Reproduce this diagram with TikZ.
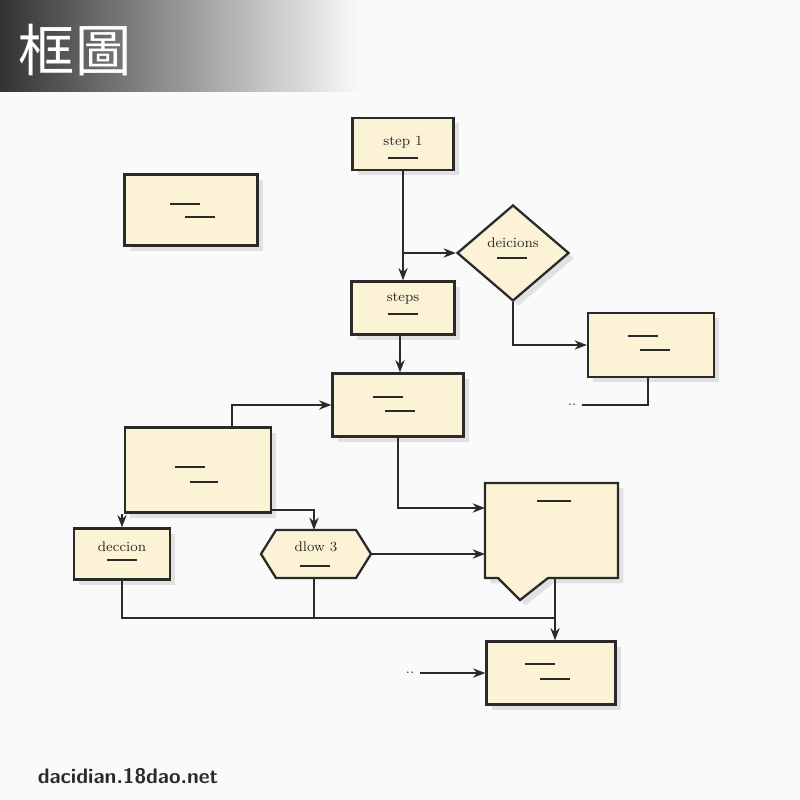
\documentclass[tikz,border=0pt]{standalone}
\usepackage{fontspec}
\newfontfamily\cjk{Noto Sans CJK SC}
\usetikzlibrary{shapes.geometric,arrows.meta,shadows}
\definecolor{cream}{HTML}{FCF3D6}
\definecolor{ink}{HTML}{2A2A2A}
\definecolor{paper}{HTML}{FAFAFA}
\begin{document}
\begin{tikzpicture}[x=0.02cm,y=-0.02cm]

% definitions
\tikzstyle{box} = [rectangle, draw=ink, line width=1.3pt, fill=cream, inner sep=0pt, drop shadow={opacity=0.2,shadow xshift=3pt,shadow yshift=-3pt}]
\tikzstyle{choice} = [diamond, draw=ink, line width=1.3pt, fill=cream, inner sep=0pt, minimum width=2.24cm, minimum height=1.92cm, drop shadow={opacity=0.2,shadow xshift=3pt,shadow yshift=-3pt}]
\tikzstyle{arrow} = [-{Stealth[length=7pt]}, draw=ink, line width=1.1pt]
\tikzstyle{line} = [draw=ink, line width=1.1pt]
\tikzstyle{stroke} = [draw=ink, line width=0.6pt]
\tikzstyle{lbl} = [font=\footnotesize, text=ink]

% background and header
\useasboundingbox (0,0) rectangle (800,800);
\fill[paper] (0,0) rectangle (800,800);
\shade[left color=black!80, right color=paper] (0,0) rectangle (360,92);
\node (title) [font=\cjk\fontsize{32}{32}\selectfont, text=white] at (75,50) {框圖};
\node (site) [font=\sffamily\bfseries\large, text=ink] at (128,776) {dacidian.18dao.net};

% the graph
\node (s1) [box, minimum width=2.02cm, minimum height=1.04cm] at (403,144) {};
\node [lbl] at (403,142) {step 1};
\node (lb) [box, minimum width=2.66cm, minimum height=1.42cm] at (191,210) {};
\node (dc) [choice] at (513,253) {};
\node [lbl] at (513,243) {deicions};
\node (st) [box, minimum width=2.06cm, minimum height=1.06cm] at (403,308) {};
\node [lbl] at (403,299) {steps};
\node (rb) [box, minimum width=2.52cm, minimum height=1.28cm] at (651,345) {};
\node (mb) [box, minimum width=2.62cm, minimum height=1.26cm] at (398,405) {};
\node (bl) [box, minimum width=2.92cm, minimum height=1.7cm] at (198,470) {};
\draw [line width=1.3pt, draw=ink, fill=cream, drop shadow={opacity=0.2,shadow xshift=3pt,shadow yshift=-3pt}]
  (485,483) -- (618,483) -- (618,578) -- (548,578) -- (520,600) -- (498,578) -- (485,578) -- cycle;
\coordinate (cl) at (485,508);
\coordinate (cb) at (555,578);
\node (dn) [box, minimum width=1.92cm, minimum height=1.02cm] at (122,554) {};
\node [lbl] at (122,547) {deccion};
\draw [line width=1.3pt, draw=ink, fill=cream] (261,554) -- (276,530) -- (356,530) -- (371,554) -- (356,578) -- (276,578) -- cycle;
\coordinate (hxn) at (314,530);
\coordinate (hxe) at (371,554);
\coordinate (hxs) at (314,578);
\node (bb) [box, minimum width=2.58cm, minimum height=1.26cm] at (551,673) {};

% placeholder strokes
\foreach \x/\y/\w in {170/204/30, 185/217/30, 388/158/30, 497/258/30, 388/314/30, 628/336/30, 640/350/30, 373/397/30, 385/411/30, 175/467/30, 190/482/28, 537/501/34, 107/560/30, 300/566/30, 525/664/30, 540/679/30}
  \draw [stroke] (\x,\y) -- ++(\w,0);

\draw [arrow] (s1) -- (st);
\coordinate (j1) at (403,253);
\draw [arrow] (j1) -- (dc.west);
\draw [arrow] (dc.south) |- (rb.west);
\node (d1) [lbl] at (572,405) {..};
\coordinate (rbs) at (648,377);
\draw [line] (rbs) |- (d1.east);
\draw [arrow] (st.south -| 400,0) -- (mb.north -| 400,0);
\coordinate (blt) at (232,428);
\draw [arrow] (blt) |- (mb.west);
\draw [arrow] (mb.south) |- (cl);
\draw [arrow] (dn.north |- bl.south) -- (dn.north);
\coordinate (j2) at (270,510);
\draw [arrow] (j2) -- (314,510) -- (hxn);
\node (dhx) [lbl] at (316,547) {dlow 3};
\draw [arrow] (hxe) -- (cl |- hxe);
\coordinate (j3) at (555,618);
\draw [line] (dn.south) |- (j3);
\draw [line] (hxs) -- (hxs |- j3);
\draw [arrow] (cb) -- (bb.north -| cb);
\node (d2) [lbl] at (410,673) {..};
\draw [arrow] (d2.east) -- (bb.west);

\end{tikzpicture}
\end{document}
